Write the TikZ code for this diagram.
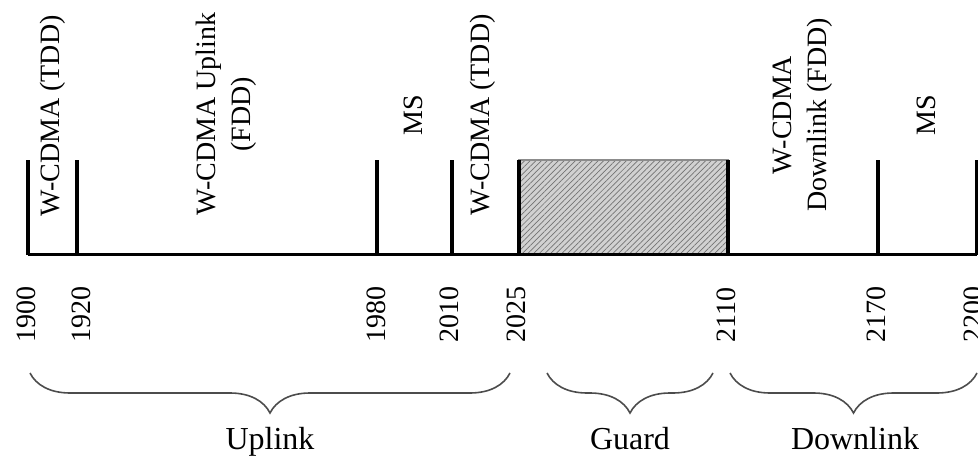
\documentclass[tikz,border=0pt]{standalone}
\usepackage{fontspec}
\setmainfont{Liberation Serif}
\usetikzlibrary{decorations.pathreplacing,patterns.meta}
\tikzstyle{tickline}=[line width=2pt,black]
\tikzstyle{axisline}=[line width=1.5pt,black]
\tikzstyle{guardbox}=[draw=black!45,line width=0.6pt,pattern={Lines[angle=45,distance=2pt,line width=0.35pt]},pattern color=black!55]
\tikzstyle{bandtext}=[rotate=90,font=\fontsize{14}{17.5}\selectfont,align=center,inner sep=0pt]
\tikzstyle{freqtext}=[rotate=90,font=\fontsize{14}{17}\selectfont,inner sep=0pt]
\tikzstyle{bracket}=[decorate,decoration={brace,mirror,amplitude=20pt},line width=0.8pt,black!70]
\tikzstyle{grouptext}=[font=\fontsize{16}{19}\selectfont,inner sep=0pt,anchor=base]

\begin{document}
\begin{tikzpicture}[x=0.5pt,y=-0.5pt]
\useasboundingbox (0,0) rectangle (978,459);

% guard band
\fill[black!18] (519,160) rectangle (728,255);
\draw[guardbox] (519,160) rectangle (728,255);

% band edges and frequencies
\foreach \x/\f/\lx in {28/1900/26, 77/1920/81, 377/1980/376, 452/2010/449, 519/2025/516, 728/2110/726, 878/2170/876, 977/2200/973}
{
  \coordinate (b\f) at (\x,255);
  \draw[tickline] (b\f) -- ++(0,-95);
  \node[freqtext] (n\f) at (\lx,315) {\f};
}
\draw[axisline] (b1900) -- (b2200);

\node[bandtext] (tdd1) at (53,116) {W-CDMA (TDD)};
\node[bandtext] (upfdd) at (226,114) {W-CDMA Uplink\\(FDD)};
\node[bandtext] (ms1) at (413,115) {MS};
\node[bandtext] (tdd2) at (483,115) {W-CDMA (TDD)};
\node[bandtext] (downfdd) at (803,115) {W-CDMA\\Downlink (FDD)};
\node[bandtext] (ms2) at (926,115) {MS};

% groups
\coordinate (ul-a) at (30,373);
\coordinate (ul-b) at (510,373);
\coordinate (gd-a) at (547,373);
\coordinate (gd-b) at (713,373);
\coordinate (dl-a) at (730,373);
\coordinate (dl-b) at (977,373);

\draw[bracket] (ul-a) -- (ul-b);
\draw[bracket] (gd-a) -- (gd-b);
\draw[bracket] (dl-a) -- (dl-b);

\node[grouptext] (uplink) at (270,449) {Uplink};
\node[grouptext] (guard) at (630,449) {Guard};
\node[grouptext] (downlink) at (855,449) {Downlink};

\end{tikzpicture}
\end{document}
